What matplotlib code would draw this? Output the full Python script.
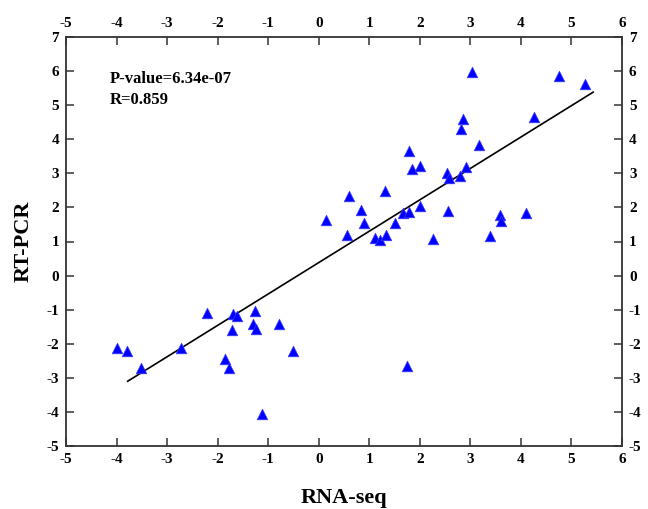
import matplotlib
matplotlib.use("Agg")
import matplotlib.pyplot as plt
import numpy as np

# RNA-seq (x) vs RT-PCR (y) values
rna_seq = [-4.00, -3.80, -3.52, -2.73, -2.21, -1.70, -1.62, -1.71, -1.26, -1.31,
           -1.25, -0.79, -0.50, -1.85, -1.77, -1.12,
           3.03, 4.76, 5.27, 4.26, 2.86, 2.81, 3.18, 1.78, 1.84, 2.00,
           2.92, 2.53, 2.57, 2.79, 0.60, 1.31, 0.84, 0.90, 0.14, 0.55,
           1.11, 1.21, 1.34, 1.51, 1.67, 1.78, 2.00, 2.27, 2.56, 3.38,
           3.59, 3.61, 4.10, 1.74]
rt_pcr = [-2.13, -2.20, -2.70, -2.13, -1.10, -1.13, -1.20, -1.59, -1.05, -1.41,
          -1.56, -1.41, -2.20, -2.45, -2.70, -4.06,
          5.98, 5.87, 5.61, 4.65, 4.58, 4.31, 3.82, 3.66, 3.14, 3.21,
          3.19, 3.00, 2.87, 2.92, 2.33, 2.47, 1.91, 1.55, 1.62, 1.20,
          1.10, 1.04, 1.18, 1.53, 1.84, 1.86, 2.04, 1.08, 1.89, 1.16,
          1.79, 1.60, 1.84, -2.66]

# regression line as drawn in the chart (slope, intercept) and its x extent
fit_slope = 0.921
fit_intercept = 0.381
fit_x_range = [-3.78, 5.43]
x_ticks = list(range(-5, 7))
y_ticks = list(range(-5, 8))
stats_text = "P-value=6.34e-07\nR=0.859"

plt.rcParams['font.family'] = ['Liberation Serif', 'DejaVu Serif']
plt.rcParams['font.weight'] = 'bold'
plt.rcParams['axes.unicode_minus'] = False

fig = plt.figure(figsize=(6.48, 5.09), dpi=100)
ax = fig.add_axes([66/648, 1-446/509, (622-66)/648, (446-37)/509])

ax.scatter(rna_seq, rt_pcr, marker='^', s=58, c='#0000ff',
           edgecolors='#3a3aff', linewidths=0.5, zorder=3)

fx = np.array(fit_x_range)
ax.plot(fx, fit_slope*fx + fit_intercept, color='black', lw=1.2, zorder=2)

ax.set_xlim(-5, 6)
ax.set_ylim(-5, 7)
ax.set_xticks(x_ticks)
ax.set_yticks(y_ticks)
ax.tick_params(direction='in', length=6, width=1.1, labelsize=11,
               top=True, right=True, labeltop=True, labelright=True,
               color='#333333', pad=5)
for lab in ax.get_xticklabels() + ax.get_yticklabels():
    lab.set_fontweight('bold')
for s in ax.spines.values():
    s.set_linewidth(1.3)
    s.set_color('#333333')

ax.set_xlabel('RNA-seq', fontsize=16, fontweight='bold', labelpad=16)
ax.set_ylabel('RT-PCR', fontsize=16, fontweight='bold', labelpad=9)

ax.text(-4.13, 6.0, stats_text, fontsize=12, fontweight='bold',
        va='top', ha='left', linespacing=1.45)

fig.savefig('out.png', dpi=100)
